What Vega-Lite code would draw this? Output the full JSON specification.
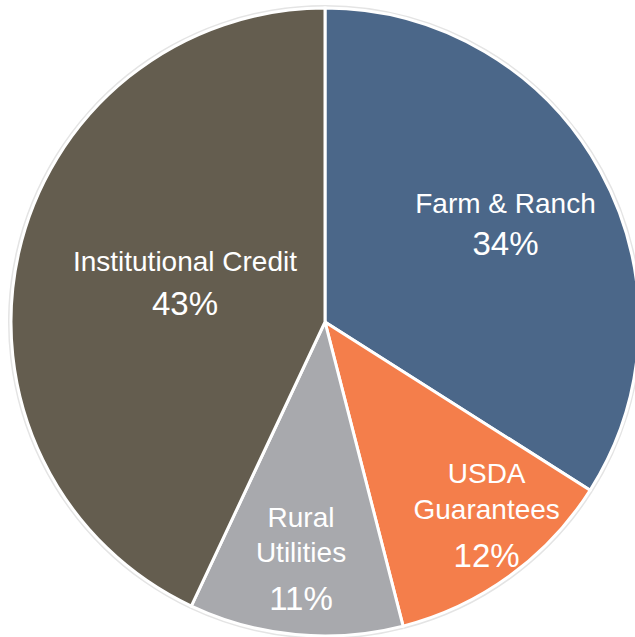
{
  "$schema": "https://vega.github.io/schema/vega-lite/v6.json",
  "width": 635,
  "height": 637,
  "autosize": {"type": "fit", "contains": "padding"},
  "padding": {"left": 15, "top": 7, "right": 0, "bottom": 0},
  "background": "white",
  "config": {"view": {"stroke": null}},
  "data": {
    "values": [
      {"segment": "Farm & Ranch", "name": "Farm & Ranch", "pct": "34%", "value": 34, "idx": 1},
      {"segment": "USDA Guarantees", "name": "USDA\nGuarantees", "pct": "12%", "value": 12, "idx": 2},
      {"segment": "Rural Utilities", "name": "Rural\nUtilities", "pct": "11%", "value": 11, "idx": 3},
      {"segment": "Institutional Credit", "name": "Institutional Credit", "pct": "43%", "value": 43, "idx": 4}
    ]
  },
  "encoding": {
    "theta": {"field": "value", "type": "quantitative", "stack": true},
    "order": {"field": "idx", "type": "quantitative"}
  },
  "layer": [
    {
      "mark": {"type": "arc", "radius": 317, "fill": "#e4e4e4", "stroke": null}
    },
    {
      "mark": {"type": "arc", "radius": 314, "stroke": "white", "strokeWidth": 3},
      "encoding": {
        "color": {
          "field": "segment",
          "type": "nominal",
          "legend": null,
          "scale": {
            "domain": ["Farm & Ranch", "USDA Guarantees", "Rural Utilities", "Institutional Credit"],
            "range": ["#4b6789", "#f47e4b", "#a8a9ad", "#645d4f"]
          }
        }
      }
    },
    {
      "mark": {"type": "text", "radius": 206, "dy": -9.7, "baseline": "alphabetic", "align": "center", "font": "Liberation Sans", "fontSize": 28, "color": "white", "lineBreak": "\n", "lineHeight": 35},
      "encoding": {"text": {"condition": {"test": "datum.segment === 'Farm & Ranch'", "field": "name"}, "value": ""}}
    },
    {
      "mark": {"type": "text", "radius": 206, "dy": 32.3, "baseline": "alphabetic", "align": "center", "font": "Liberation Sans", "fontSize": 33, "color": "white"},
      "encoding": {"text": {"condition": {"test": "datum.segment === 'Farm & Ranch'", "field": "pct"}, "value": ""}}
    },
    {
      "mark": {"type": "text", "radius": 275, "dy": -61.3, "baseline": "alphabetic", "align": "center", "font": "Liberation Sans", "fontSize": 28, "color": "white", "lineBreak": "\n", "lineHeight": 36},
      "encoding": {"text": {"condition": {"test": "datum.segment === 'USDA Guarantees'", "field": "name"}, "value": ""}}
    },
    {
      "mark": {"type": "text", "radius": 275, "dy": 22.7, "baseline": "alphabetic", "align": "center", "font": "Liberation Sans", "fontSize": 33, "color": "white"},
      "encoding": {"text": {"condition": {"test": "datum.segment === 'USDA Guarantees'", "field": "pct"}, "value": ""}}
    },
    {
      "mark": {"type": "text", "radius": 255, "dy": -48.9, "baseline": "alphabetic", "align": "center", "font": "Liberation Sans", "fontSize": 28, "color": "white", "lineBreak": "\n", "lineHeight": 35},
      "encoding": {"text": {"condition": {"test": "datum.segment === 'Rural Utilities'", "field": "name"}, "value": ""}}
    },
    {
      "mark": {"type": "text", "radius": 255, "dy": 34.1, "baseline": "alphabetic", "align": "center", "font": "Liberation Sans", "fontSize": 33, "color": "white"},
      "encoding": {"text": {"condition": {"test": "datum.segment === 'Rural Utilities'", "field": "pct"}, "value": ""}}
    },
    {
      "mark": {"type": "text", "radius": 143.5, "dy": -19.7, "baseline": "alphabetic", "align": "center", "font": "Liberation Sans", "fontSize": 28, "color": "white", "lineBreak": "\n", "lineHeight": 35},
      "encoding": {"text": {"condition": {"test": "datum.segment === 'Institutional Credit'", "field": "name"}, "value": ""}}
    },
    {
      "mark": {"type": "text", "radius": 143.5, "dy": 24.3, "baseline": "alphabetic", "align": "center", "font": "Liberation Sans", "fontSize": 33, "color": "white"},
      "encoding": {"text": {"condition": {"test": "datum.segment === 'Institutional Credit'", "field": "pct"}, "value": ""}}
    }
  ]
}
